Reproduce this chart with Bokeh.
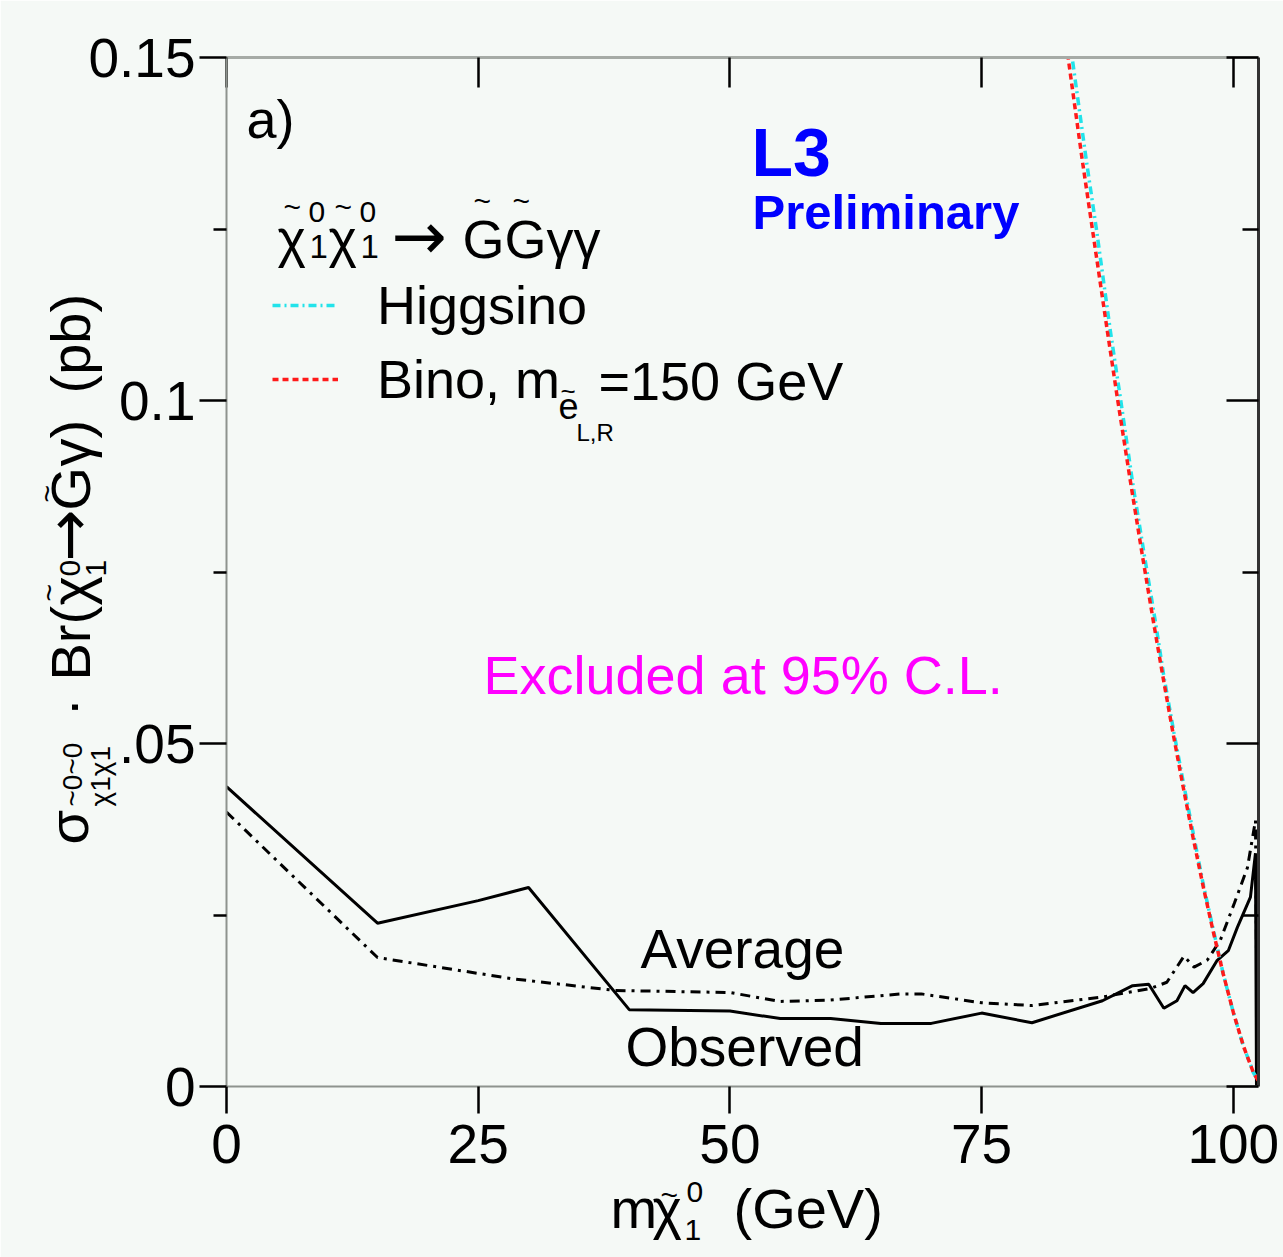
from bokeh.plotting import figure
from bokeh.models import Range1d, LinearAxis, FixedTicker, Label, Legend, LegendItem
from bokeh.layouts import column, row
from bokeh.embed import file_html
from bokeh.resources import INLINE

# ---------------- data ----------------
obs_x = [0, 15, 25, 30, 40, 50, 55, 60, 65, 70, 75, 80, 87, 90, 91.6, 93.1, 94.4, 95.2,
         96.0, 97.0, 98.4, 99.5, 100.4, 101.7, 102.2, 102.3]
obs_y = [0.0437, 0.0238, 0.0271, 0.0290, 0.0112, 0.0110, 0.0099, 0.0099, 0.0092, 0.0092,
         0.0107, 0.0093, 0.0125, 0.0147, 0.0149, 0.0114, 0.0125, 0.0147, 0.0137, 0.0150,
         0.0184, 0.0198, 0.0232, 0.0276, 0.0340, 0.0]

avg_x = [0, 15, 28.4, 38.6, 50, 55, 60, 67, 69, 75, 80, 86.8, 91.8, 93.4, 95.1, 96.1,
         97.4, 98.7, 100.1, 101.4, 102.2, 102.4]
avg_y = [0.0400, 0.0188, 0.0157, 0.0140, 0.0137, 0.0124, 0.0126, 0.0135, 0.0135, 0.0122,
         0.0118, 0.0130, 0.0143, 0.0152, 0.0190, 0.0174, 0.0184, 0.0213, 0.0267, 0.0319,
         0.0388, 0.0]

bino_x = [83.4, 85.0, 86.0, 87.5, 88.5, 89.8, 91.0, 92.0, 93.0, 94.0, 95.0, 96.0, 97.0,
          98.0, 99.0, 100.0, 101.0, 102.0, 102.5]
bino_y = [0.152, 0.135, 0.125, 0.110, 0.1002, 0.088, 0.0771, 0.0683, 0.0598, 0.0516,
          0.0438, 0.0363, 0.0292, 0.0226, 0.0164, 0.0108, 0.0059, 0.0020, 0.0008]

higgs_x = [83.8, 85.4, 86.4, 87.8, 88.8, 90.0, 91.2, 92.2, 93.1, 94.1, 95.1, 96.1, 97.05,
           98.05, 99.0, 100.0, 101.0, 102.0, 102.5]
higgs_y = [0.152, 0.135, 0.125, 0.110, 0.1002, 0.088, 0.0771, 0.0683, 0.0598, 0.0516,
           0.0438, 0.0363, 0.0292, 0.0226, 0.0164, 0.0108, 0.0059, 0.0020, 0.0008]

x_ticks = [0, 25, 50, 75, 100]
y_ticks = [0, 0.05, 0.1, 0.15]
y_minor = [0.025, 0.075, 0.125]
y_tick_text = {0: "0", 0.05: ".05", 0.1: "0.1", 0.15: "0.15"}

XMIN, XMAX, YMIN, YMAX = 0, 102.5, 0, 0.15

# ---------------- layout constants ----------------
W, H = 1283, 1257
FL, FR, FT, FB = 226, 1258, 57, 1086
BG = "#f5f9f6"
FONT = "Liberation Sans"
TICK_FS = "55px"

p = figure(width=W, height=H, x_range=Range1d(XMIN, XMAX), y_range=Range1d(YMIN, YMAX),
           output_backend="svg", toolbar_location=None,
           min_border_left=FL, min_border_right=W - FR, min_border_top=FT,
           min_border_bottom=H - FB)
p.background_fill_color = BG
p.border_fill_color = BG
p.outline_line_color = None
p.xgrid.visible = False
p.ygrid.visible = False

# bottom axis
xa = p.xaxis[0]
xa.ticker = FixedTicker(ticks=x_ticks, minor_ticks=[])
xa.axis_line_color = "#8e938e"
xa.axis_line_width = 2
xa.major_tick_line_color = "black"
xa.major_tick_line_width = 2.5
xa.major_tick_out = 27
xa.major_tick_in = 0
xa.minor_tick_line_color = None
xa.major_label_text_font = FONT
xa.major_label_text_font_size = TICK_FS
xa.major_label_text_color = "black"
xa.major_label_standoff = 11

# left axis
ya = p.yaxis[0]
ya.ticker = FixedTicker(ticks=y_ticks, minor_ticks=y_minor)
ya.major_label_overrides = y_tick_text
ya.axis_line_color = "#8e938e"
ya.axis_line_width = 2
ya.major_tick_line_color = "black"
ya.major_tick_line_width = 2.5
ya.major_tick_out = 27
ya.major_tick_in = 0
ya.minor_tick_line_color = "black"
ya.minor_tick_line_width = 2.5
ya.minor_tick_out = 13
ya.minor_tick_in = 0
ya.major_label_text_font = FONT
ya.major_label_text_font_size = TICK_FS
ya.major_label_text_color = "black"
ya.major_label_standoff = 4

# right and top mirror axes (ticks only)
ra = LinearAxis(ticker=FixedTicker(ticks=y_ticks, minor_ticks=y_minor))
ra.axis_line_color = "#333333"
ra.axis_line_width = 3
ra.major_tick_line_color = "black"
ra.major_tick_line_width = 2.5
ra.major_tick_in = 32
ra.major_tick_out = 0
ra.minor_tick_line_color = "black"
ra.minor_tick_line_width = 2.5
ra.minor_tick_in = 16
ra.minor_tick_out = 0
ra.major_label_text_font_size = "0px"
ra.major_label_text_color = None
ra.major_label_standoff = 0
p.add_layout(ra, "right")

ta = LinearAxis(ticker=FixedTicker(ticks=x_ticks, minor_ticks=[]))
ta.axis_line_color = "#a6aba6"
ta.axis_line_width = 3
ta.major_tick_line_color = "black"
ta.major_tick_line_width = 2.5
ta.major_tick_in = 30
ta.major_tick_out = 0
ta.minor_tick_line_color = None
ta.major_label_text_font_size = "0px"
ta.major_label_text_color = None
ta.major_label_standoff = 0
p.add_layout(ta, "above")

# ---------------- curves ----------------
p.line(obs_x, obs_y, line_color="black", line_width=3)
p.line(avg_x, avg_y, line_color="black", line_width=3, line_dash="10 6 3 6")
r_h = p.line(higgs_x, higgs_y, line_color="#22e3ea", line_width=3.5, line_dash="8 4 2 4")
r_b = p.line(bino_x, bino_y, line_color="#ff1a1a", line_width=3.5, line_dash="6 4")

legend = Legend(items=[LegendItem(label="Higgsino", renderers=[r_h]),
                       LegendItem(label="Bino, m", renderers=[r_b])],
                location=(46, 676))
legend.background_fill_alpha = 0
legend.border_line_color = None
legend.padding = 0
legend.margin = 0
legend.spacing = 12
legend.glyph_width = 66
legend.glyph_height = 50
legend.label_height = 50
legend.label_standoff = 39
legend.label_text_font = FONT
legend.label_text_font_size = "54px"
legend.label_text_color = "black"
p.add_layout(legend)


# ---------------- transparent text overlays for the axis titles ----------------
def overlay(xr, yr, left, right, top, bottom):
    o = figure(width=W, height=H, x_range=xr, y_range=yr, output_backend="svg",
               toolbar_location=None, x_axis_type=None, y_axis_type=None,
               min_border_left=left, min_border_right=right,
               min_border_top=top, min_border_bottom=bottom)
    o.background_fill_alpha = 0
    o.border_fill_alpha = 0
    o.outline_line_color = None
    return o


# x title overlay: frame spans the plot width and the full canvas height
tx = overlay(Range1d(FL, FR), Range1d(H, 0), FL, W - FR, 0, 0)
tx.margin = (-H, 0, 0, 0)
# y title overlay: frame spans the full canvas width and the plot height
ty = overlay(Range1d(0, W), Range1d(FB, FT), 0, 0, FT, H - FB)
ty.margin = (0, 0, 0, -W)


def lab(fig, text, px, py, size, color="black", bold=False, angle=0, font=FONT):
    # px, py: start of the text on its baseline, in canvas pixels (y downwards)
    shift = 0.35 * size
    if angle == 0:
        sx, sy = px, py - shift
    else:
        sx, sy = px - shift, py
    common = dict(text=text, text_font=font, text_font_size=f"{size}px",
                  text_color=color, text_font_style="bold" if bold else "normal",
                  text_align="left", text_baseline="alphabetic",
                  angle=angle, angle_units="deg")
    if fig is p:
        fig.add_layout(Label(x=sx - FL, y=FB - sy, x_units="screen", y_units="screen",
                             **common))
    else:
        fig.add_layout(Label(x=sx, y=sy, **common))


# panel tag and experiment
lab(p, "a)", 246, 137, 54)
lab(p, "L3", 751, 175, 68, color="#0000ff", bold=True)
lab(p, "Preliminary", 752, 229, 49, color="#0000ff", bold=True)

# legend title: chi chi -> G G gamma gamma
lab(p, "χ", 277, 256, 54)
lab(p, "1", 309, 258, 33)
lab(p, "0", 308, 222, 30)
lab(p, "~", 283, 216, 30)
lab(p, "χ", 328, 256, 54)
lab(p, "1", 360, 258, 33)
lab(p, "0", 359, 222, 30)
lab(p, "~", 334, 216, 30)
lab(p, "→", 391, 259, 66, font="DejaVu Sans")
lab(p, "GGγγ", 462, 257, 54)
lab(p, "~", 473, 210, 30)
lab(p, "~", 512, 210, 30)

# rest of the Bino legend label
lab(p, "e", 558, 418, 36)
lab(p, "~", 560, 400, 26)
lab(p, "L,R", 576, 440, 24)
lab(p, "=150 GeV", 598, 399, 54)

# in-plot annotations
lab(p, "Excluded at 95% C.L.", 483, 693, 54, color="#ff00ff")
lab(p, "Average", 640, 968, 55)
lab(p, "Observed", 625, 1066, 55)

# x-axis title
lab(tx, "m", 610, 1228, 56)
lab(tx, "χ", 652, 1228, 56)
lab(tx, "1", 684, 1240, 30)
lab(tx, "0", 686, 1202, 30)
lab(tx, "~", 660, 1204, 30)
lab(tx, "(GeV)", 733, 1228, 56)

# y-axis title (rotated, reading upwards)
lab(ty, "σ", 88, 844, 56, angle=90)
lab(ty, "χ1χ1", 110, 806, 28, angle=90)
lab(ty, "~0~0", 82, 806, 28, angle=90)
lab(ty, "·", 90, 716, 56, angle=90)
lab(ty, "Br(", 90, 680, 56, angle=90)
lab(ty, "χ", 90, 605, 56, angle=90)
lab(ty, "1", 106, 576, 30, angle=90)
lab(ty, "0", 80, 576, 30, angle=90)
lab(ty, "~", 58, 601, 30, angle=90)
lab(ty, "→", 90, 561, 62, angle=90, font="DejaVu Sans")
lab(ty, "G", 90, 510, 56, angle=90)
lab(ty, "~", 56, 502, 30, angle=90)
lab(ty, "γ)", 90, 466, 56, angle=90)
lab(ty, "(pb)", 90, 393, 56, angle=90)

root = row(column(p, tx), ty)
open("out.html", "w").write(file_html(root, INLINE))
